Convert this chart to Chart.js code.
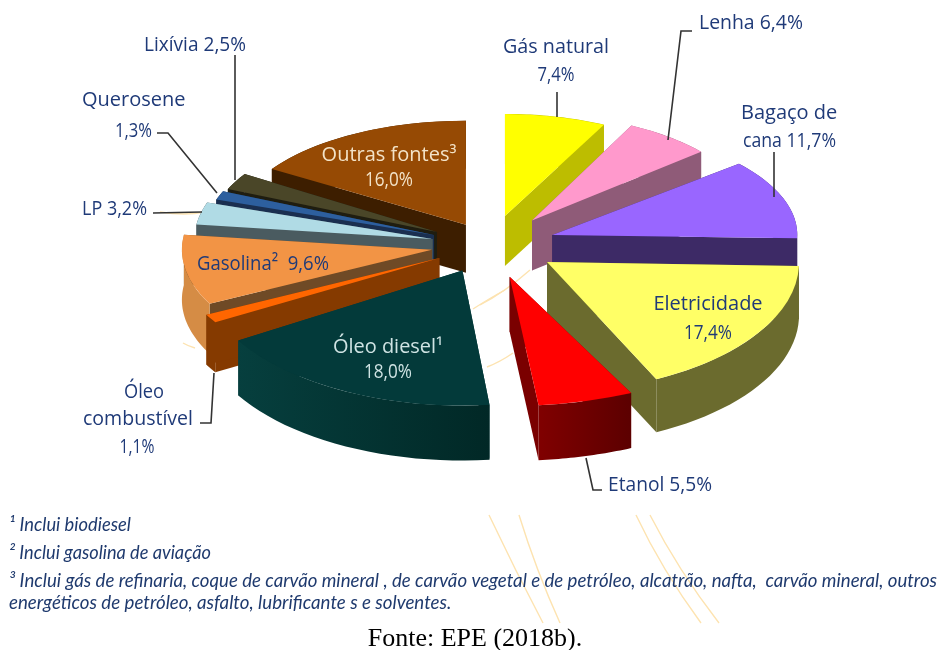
<!DOCTYPE html>
<html><head><meta charset="utf-8">
<script src="https://cdn.jsdelivr.net/npm/chart.js@4"></script>
<style>html,body{margin:0;padding:0;background:#fff}canvas{display:block}</style>
</head><body><canvas id="c" width="939" height="650"></canvas>
<script>
const categories=["Gás natural","Lenha","Bagaço de cana","Eletricidade","Etanol","Óleo diesel","Óleo combustível","Gasolina","GLP","Querosene","Lixívia","Outras fontes"];
const values=[7.4,6.4,11.7,17.4,5.5,18.0,1.1,9.6,3.2,1.3,2.5,16.0];
const faceColors=["#ffff00","#ff99cc","#9966ff","#ffff66","#ff0000","#033a3a","#ff6600","#f29445","#b0dbe5","#2d5f9e","#4a4628","#964a04"];
const radialWall=["#bdbd00","#8f5b78","#3d2a66","#6b6b2e","#7a0000","#053a3a","#853a00","#6f4a26","#4a5b60","#1a2f50","#1f1d10","#3d1e00"];
const outerWallA=["#bdbd00","#8f5b78","#3d2a66","#6b6b2e","#5c0000","#012826","#853a00","#d58c45","#4a5b60","#1a2f50","#1f1d10","#3d1e00"];
const outerWallB=["#bdbd00","#8f5b78","#3d2a66","#6b6b2e","#800000","#063f3e","#853a00","#d58c45","#4a5b60","#1a2f50","#1f1d10","#3d1e00"];
const explode=[65,68,66,68,72,62,58,59,59,60,60,50];
const rimX=[221,222,245,252,280,262,262,250,238,230,228,230];
const rimY=[102,106,110,130,129,135,124,118,113,110,108,104];
const wallDepth=[50,50,50,53,55,55,50,50,50,50,50,48];
const drawOrder=[11,10,9,8,7,6,0,1,2,3,4,5];
const tilt=0.46;
const labels=[
 ["Lixívia 2,5%",144,45,"left",102],["Querosene",82,100,"left",105],["1,3%",152,131,"right",37],["LP 3,2%",82,209,"left",65],
 ["Gás natural",556,47,"center",106],["7,4%",556,75,"center",37],["Lenha 6,4%",699,23,"left",104],
 ["Bagaço de",741,113,"left",98],["cana 11,7%",743,141,"left",93],["Eletricidade",708,304,"center",112],["17,4%",708,333,"center",48],
 ["Etanol 5,5%",608,485,"left",104],["Óleo",144,392,"center",40],["combustível",83,419,"left",110],["1,1%",137,447,"center",35],
 ["Gasolina²  9,6%",197,264,"left",132]];
const lightLabels=[["Outras fontes³",389,155,"#f3e3c8",135],["16,0%",389,180,"#f3e3c8",48],["Óleo diesel¹",388,347,"#cfe3e3",110],["18,0%",388,372,"#cfe3e3",48]];
const leaders=[[[557,92],[557,117]],[[692,31],[681,31],[668,140]],[[774,152],[774,197]],[[586,458],[593,490],[602,490]],
 [[214,373],[211,423],[200,423]],[[153,213],[202,212]],[[157,133],[168,133],[217,193]],[[235,55],[235,180]]];
const footnotes=[["¹ Inclui biodiesel",9,525,122],["² Inclui gasolina de aviação",9,553,202],
 ["³ Inclui gás de refinaria, coque de carvão mineral , de carvão vegetal e de petróleo, alcatrão, nafta,  carvão mineral, outros",9,581,928],
 ["energéticos de petróleo, asfalto, lubrificante s e solventes.",9,603,446]];
const source="Fonte: EPE (2018b).";
const swirls=[[489,515,515,570,543,623],[519,515,536,570,560,623],[636,515,662,570,701,623],[650,515,678,570,719,623],
 [480,305,505,292,530,270],[487,367,500,362,513,353],[473,309,490,298,505,290],[183,343,188,346,195,348],[205,212,185,216,160,212]];

const pie3d={id:"pie3d",
 beforeDraw(chart){const x=chart.ctx;x.save();x.strokeStyle="#fde3b0";x.lineWidth=1.4;
  swirls.forEach(s=>{x.beginPath();x.moveTo(s[0],s[1]);x.quadraticCurveTo(s[2],s[3],s[4],s[5]);x.stroke();});x.restore();},
 beforeDatasetDraw(){return false;},
 afterDatasetsDraw(chart){
  const x=chart.ctx,arcs=chart.getDatasetMeta(0).data;
  drawOrder.forEach(i=>{
   const a=arcs[i],mid=(a.startAngle+a.endAngle)/2,depth=wallDepth[i];
   const tx=a.x+explode[i]*Math.cos(mid),ty=a.y+explode[i]*tilt*Math.sin(mid);
   const rim=[];const n=24;
   for(let j=0;j<=n;j++){const t=a.startAngle+(a.endAngle-a.startAngle)*j/n;rim.push([tx+rimX[i]*Math.cos(t),ty+rimY[i]*Math.sin(t)]);}
   const tip=[tx,ty];
   const quad=(p,q)=>{x.fillStyle=radialWall[i];x.beginPath();x.moveTo(p[0],p[1]);x.lineTo(q[0],q[1]);x.lineTo(q[0],q[1]+depth);x.lineTo(p[0],p[1]+depth);x.closePath();x.fill();};
   quad(tip,rim[0]);quad(tip,rim[n]);
   const xs=rim.map(p=>p[0]),g=x.createLinearGradient(Math.min(...xs),0,Math.max(...xs),0);
   g.addColorStop(0,outerWallB[i]);g.addColorStop(1,outerWallA[i]);
   x.fillStyle=g;x.beginPath();
   rim.forEach((p,k)=>k?x.lineTo(p[0],p[1]):x.moveTo(p[0],p[1]));
   for(let j=n;j>=0;j--)x.lineTo(rim[j][0],rim[j][1]+depth);
   x.closePath();x.fill();
   x.save();x.translate(tx,ty);x.scale(rimX[i]/a.outerRadius,rimY[i]/a.outerRadius);x.translate(-a.x,-a.y);a.draw(x);x.restore();
  });
 },
 afterDraw(chart){
  const x=chart.ctx;x.save();x.textBaseline="middle";
  x.strokeStyle="#333";x.lineWidth=1.6;
  leaders.forEach(l=>{x.beginPath();l.forEach((p,k)=>k?x.lineTo(p[0],p[1]):x.moveTo(p[0],p[1]));x.stroke();});
  x.font='20px "Open Sans"';x.fillStyle="#1f3a78";
  labels.forEach(l=>{x.textAlign=l[3];x.fillText(l[0],l[1],l[2],l[4]);});
  x.textAlign="center";
  lightLabels.forEach(l=>{x.fillStyle=l[3];x.fillText(l[0],l[1],l[2],l[4]);});
  x.textAlign="left";x.font='italic 18.7px Lato';x.fillStyle="#1f3a6e";
  footnotes.forEach(f=>x.fillText(f[0],f[1],f[2],f[3]));
  x.textAlign="center";x.font='26px "Liberation Serif"';x.fillStyle="#000";x.fillText(source,475,639);
  x.restore();
 }};
new Chart(document.getElementById("c"),{type:"pie",
 data:{labels:categories,datasets:[{data:values,backgroundColor:faceColors,borderWidth:0}]},
 options:{responsive:false,animation:false,radius:200,rotation:0,
  layout:{padding:{left:41,right:0,top:0,bottom:160}},
  plugins:{legend:{display:false},tooltip:{enabled:false}}},
 plugins:[pie3d]});
</script></body></html>
